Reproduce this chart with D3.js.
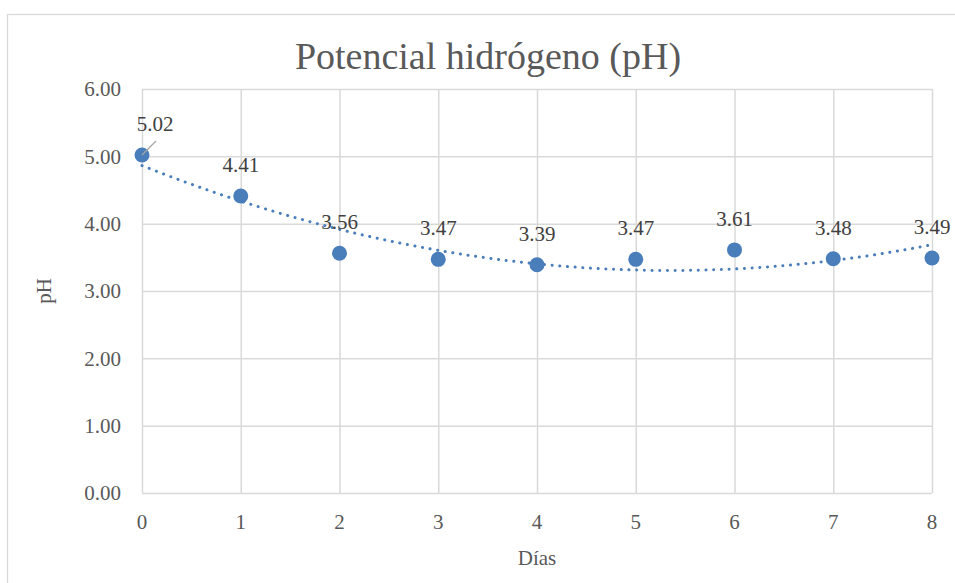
<!DOCTYPE html>
<html>
<head>
<meta charset="utf-8">
<script src="https://cdn.jsdelivr.net/npm/d3@7/dist/d3.min.js"></script>
<style>
  html, body { margin: 0; padding: 0; background: #fff; }
  svg { display: block; font-family: "Liberation Serif", "Times New Roman", serif; }
</style>
</head>
<body>
<svg id="chart" width="955" height="583"></svg>
<script>
// Daily pH readings
const days = [0, 1, 2, 3, 4, 5, 6, 7, 8];
const phValues = [5.02, 4.41, 3.56, 3.47, 3.39, 3.47, 3.61, 3.48, 3.49];
const xTicks = [0, 1, 2, 3, 4, 5, 6, 7, 8];
const yTicks = [0, 1, 2, 3, 4, 5, 6];
const chartTitle = "Potencial hidrógeno (pH)";
const xTitle = "Días";
const yTitle = "pH";

const svg = d3.select("#chart");
const W = 955, H = 583;
const plot = { left: 142, right: 932, top: 89, bottom: 493 };

const x = d3.scaleLinear().domain([0, 8]).range([plot.left, plot.right]);
const y = d3.scaleLinear().domain([0, 6]).range([plot.bottom, plot.top]);

const gridColor = "#d9d9d9";
const textColor = "#595959";
const labelColor = "#404040";
const markColor = "#4a7ebb";

// outer chart frame
svg.append("rect")
  .attr("x", 7.5).attr("y", 14.5)
  .attr("width", 960).attr("height", 600)
  .attr("fill", "none").attr("stroke", gridColor).attr("stroke-width", 1.3);

// gridlines via axes with full-length ticks
svg.append("g")
  .attr("transform", `translate(${plot.left},0)`)
  .call(d3.axisLeft(y).tickValues(yTicks).tickSize(-(plot.right - plot.left)).tickFormat(""))
  .call(g => g.select(".domain").remove())
  .call(g => g.selectAll("line").attr("stroke", gridColor).attr("stroke-width", 1.5));

svg.append("g")
  .attr("transform", `translate(0,${plot.bottom})`)
  .call(d3.axisBottom(x).tickValues(xTicks).tickSize(-(plot.bottom - plot.top)).tickFormat(""))
  .call(g => g.select(".domain").remove())
  .call(g => g.selectAll("line").attr("stroke", gridColor).attr("stroke-width", 1.5));

// tick labels
svg.append("g").selectAll("text")
  .data(yTicks).join("text")
  .attr("x", plot.left - 21)
  .attr("y", d => y(d))
  .attr("dy", "0.35em")
  .attr("text-anchor", "end")
  .attr("font-size", 21)
  .attr("fill", textColor)
  .text(d => d.toFixed(2));

svg.append("g").selectAll("text")
  .data(xTicks).join("text")
  .attr("x", d => x(d))
  .attr("y", 529)
  .attr("text-anchor", "middle")
  .attr("font-size", 21)
  .attr("fill", textColor)
  .text(d => d);

// polynomial (order 2) least-squares trendline
function quadFit(xs, ys) {
  const n = xs.length;
  let s = [0, 0, 0, 0, 0], t = [0, 0, 0];
  for (let i = 0; i < n; i++) {
    const xi = xs[i], yi = ys[i];
    for (let k = 0; k <= 4; k++) s[k] += Math.pow(xi, k);
    for (let k = 0; k <= 2; k++) t[k] += Math.pow(xi, k) * yi;
  }
  const A = [[s[0], s[1], s[2], t[0]], [s[1], s[2], s[3], t[1]], [s[2], s[3], s[4], t[2]]];
  for (let c = 0; c < 3; c++) {
    for (let r = c + 1; r < 3; r++) {
      const f = A[r][c] / A[c][c];
      for (let k = c; k < 4; k++) A[r][k] -= f * A[c][k];
    }
  }
  const coef = [0, 0, 0];
  for (let r = 2; r >= 0; r--) {
    let v = A[r][3];
    for (let k = r + 1; k < 3; k++) v -= A[r][k] * coef[k];
    coef[r] = v / A[r][r];
  }
  return coef;
}
const coef = quadFit(days, phValues);
const trendPts = d3.range(0, 8.0001, 0.05).map(d => [d, coef[0] + coef[1] * d + coef[2] * d * d]);
svg.append("path")
  .datum(trendPts)
  .attr("fill", "none")
  .attr("stroke", markColor)
  .attr("stroke-width", 3)
  .attr("stroke-linecap", "round")
  .attr("stroke-dasharray", "0.1 7.6")
  .attr("d", d3.line().x(d => x(d[0])).y(d => y(d[1])));

// markers
const pts = days.map((d, i) => ({ d, v: phValues[i], i }));
svg.append("g").selectAll("circle")
  .data(pts).join("circle")
  .attr("cx", p => x(p.d))
  .attr("cy", p => y(p.v))
  .attr("r", 7.5)
  .attr("fill", markColor);

// leader line for the first label, which sits offset from its point
const first = pts[0];
svg.append("line")
  .attr("x1", x(first.d)).attr("y1", y(first.v))
  .attr("x2", x(first.d) + 14).attr("y2", y(first.v) - 14)
  .attr("stroke", "#a6a6a6").attr("stroke-width", 1.3);

// data labels
svg.append("g").selectAll("text")
  .data(pts).join("text")
  .attr("x", p => x(p.d) + (p.i === 0 ? 13 : 0))
  .attr("y", p => y(p.v) - (p.i === 0 ? 24 : 24))
  .attr("text-anchor", "middle")
  .attr("font-size", 21)
  .attr("fill", labelColor)
  .text(p => p.v.toFixed(2));

// titles
svg.append("text")
  .attr("x", 488).attr("y", 69)
  .attr("text-anchor", "middle")
  .attr("font-size", 38)
  .attr("fill", textColor)
  .text(chartTitle);

svg.append("text")
  .attr("x", (plot.left + plot.right) / 2).attr("y", 565)
  .attr("text-anchor", "middle")
  .attr("font-size", 21)
  .attr("fill", textColor)
  .text(xTitle);

svg.append("text")
  .attr("transform", `translate(51,${(plot.top + plot.bottom) / 2}) rotate(-90)`)
  .attr("text-anchor", "middle")
  .attr("font-size", 21)
  .attr("fill", textColor)
  .text(yTitle);
</script>
</body>
</html>
